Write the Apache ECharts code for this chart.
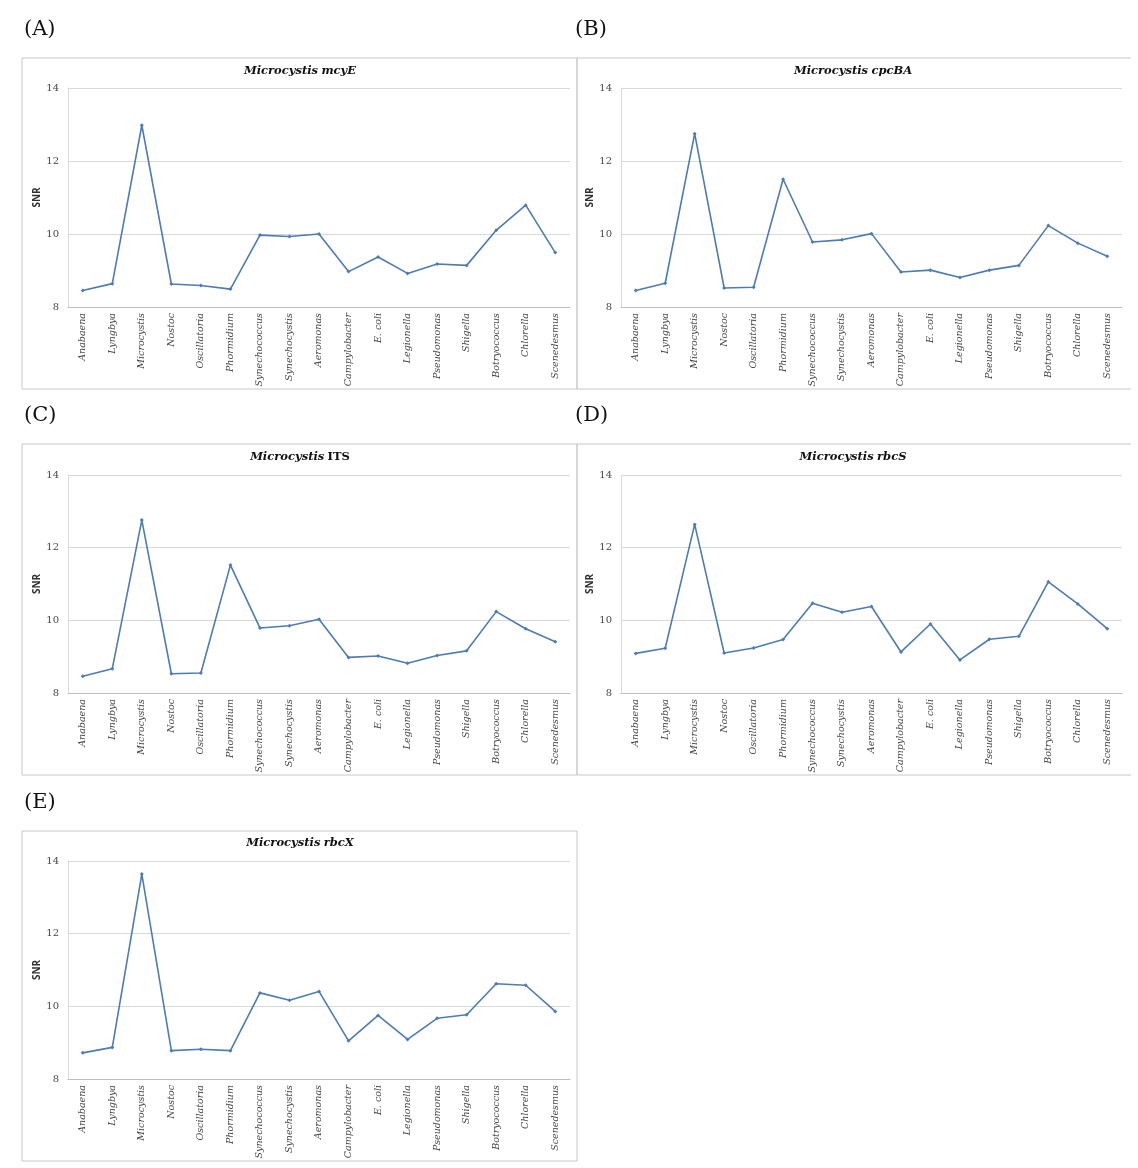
<!DOCTYPE html>
<html>
<head>
<meta charset="utf-8">
<script src="https://cdn.jsdelivr.net/npm/echarts@6/dist/echarts.min.js"></script>
<style>
html,body{margin:0;padding:0;background:#fff;}
#chart{width:1138px;height:1168px;}
</style>
</head>
<body>
<div id="chart"></div>
<script>
const categories = ['Anabaena','Lyngbya','Microcystis','Nostoc','Oscillatoria','Phormidium','Synechococcus','Synechocystis','Aeromonas','Campylobacter','E. coli','Legionella','Pseudomonas','Shigella','Botryococcus','Chlorella','Scenedesmus'];

const mcyE  = [8.45, 8.64, 12.98, 8.63, 8.59, 8.49, 9.97, 9.93, 10.00, 8.97, 9.37, 8.92, 9.18, 9.14, 10.10, 10.79, 9.49];
const cpcBA = [8.45, 8.65, 12.75, 8.52, 8.54, 11.50, 9.78, 9.84, 10.01, 8.96, 9.01, 8.81, 9.01, 9.14, 10.23, 9.75, 9.39];
const ITS   = [8.46, 8.67, 12.76, 8.53, 8.55, 11.52, 9.79, 9.85, 10.03, 8.98, 9.02, 8.82, 9.03, 9.16, 10.24, 9.77, 9.41];
const rbcS  = [9.09, 9.23, 12.64, 9.10, 9.24, 9.47, 10.47, 10.22, 10.38, 9.13, 9.90, 8.91, 9.48, 9.56, 11.06, 10.45, 9.77];
const rbcX  = [8.72, 8.87, 13.64, 8.78, 8.82, 8.78, 10.37, 10.17, 10.41, 9.05, 9.75, 9.09, 9.67, 9.77, 10.62, 10.58, 9.86];

const yTicks = { min: 8, max: 14, interval: 2 };
const yAxisName = 'SNR';
const panelLetters = ['(A)','(B)','(C)','(D)','(E)'];
const panelGenes = ['mcyE','cpcBA','ITS','rbcS','rbcX'];
const panelData = [mcyE, cpcBA, ITS, rbcS, rbcX];

// layout (styles / positions)
const layout = [
  {box:[22,58,577,389], grid:{left:68, top:88, width:502, height:219}, letter:[24,30], title:[300,71], rightEdge:true},
  {box:[577,58,1131,389], grid:{left:621, top:88, width:501, height:219}, letter:[575,30], title:[853,71], rightEdge:false},
  {box:[22,444,577,775], grid:{left:68, top:475, width:502, height:218}, letter:[24,416], title:[300,457], rightEdge:true},
  {box:[577,444,1131,775], grid:{left:621, top:475, width:501, height:218}, letter:[575,416], title:[853,457], rightEdge:false},
  {box:[22,831,577,1161], grid:{left:68, top:861, width:502, height:218}, letter:[24,803], title:[300,843], rightEdge:true}
];

const LINE = '#4c7cb3';
const LABEL = '#474747';
const SERIF = '"DejaVu Serif", "Liberation Serif", serif';

const grids = [], xAxes = [], yAxes = [], series = [], graphics = [];
layout.forEach((L, i) => {
  grids.push(Object.assign({containLabel:false}, L.grid));
  xAxes.push({
    type:'category', gridIndex:i, data:categories, boundaryGap:true,
    axisLine:{show:true, lineStyle:{color:'#bfbfbf', width:1}},
    axisTick:{show:false},
    axisLabel:{interval:0, rotate:90, margin:6, fontSize:9.5, fontStyle:'italic', color:LABEL, fontFamily:SERIF}
  });
  yAxes.push({
    type:'value', gridIndex:i, min:yTicks.min, max:yTicks.max, interval:yTicks.interval,
    name:yAxisName, nameLocation:'middle', nameGap:19, nameRotate:90,
    nameTextStyle:{fontSize:10, fontWeight:'bold', color:'#303030', fontFamily:'"Open Sans", "DejaVu Sans", sans-serif'},
    axisLine:{show:true, lineStyle:{color:'#d9d9d9', width:1}},
    axisTick:{show:false},
    splitLine:{show:true, lineStyle:{color:'#d9d9d9', width:1}},
    axisLabel:{fontSize:10, color:LABEL, margin:9, fontFamily:SERIF}
  });
  series.push({
    type:'line', xAxisIndex:i, yAxisIndex:i, data:panelData[i],
    symbol:'diamond', symbolSize:4, showSymbol:true,
    lineStyle:{color:LINE, width:1.6},
    itemStyle:{color:LINE},
    animation:false
  });
  const [x1,y1,x2,y2] = L.box;
  const pts = L.rightEdge ? [[x2,y1],[x1,y1],[x1,y2],[x2,y2],[x2,y1]] : [[x2,y1],[x1,y1],[x1,y2],[x2,y2]];
  graphics.push({type:'polyline', shape:{points:pts}, style:{stroke:'#c8c8c8', lineWidth:1, fill:null}, z:0, silent:true});
  graphics.push({type:'text', x:L.letter[0], y:L.letter[1],
    style:{text:panelLetters[i], fontSize:21, fontFamily:'"DejaVu Serif", "Liberation Serif", serif', fill:'#111', textVerticalAlign:'middle', textAlign:'left'}});
  const gene = panelGenes[i];
  const geneStyle = gene === 'ITS' ? 'g' : 'gi';
  graphics.push({type:'text', x:L.title[0], y:L.title[1],
    style:{text:'{i|Microcystis} {' + geneStyle + '|' + gene + '}', textAlign:'center', textVerticalAlign:'middle',
      rich:{
        i:{fontSize:11.5, fontWeight:'bold', fontStyle:'italic', fontFamily:SERIF, fill:'#111'},
        gi:{fontSize:11.5, fontWeight:'bold', fontStyle:'italic', fontFamily:SERIF, fill:'#111'},
        g:{fontSize:11.5, fontWeight:'bold', fontFamily:SERIF, fill:'#111'}
      }}});
});

const chart = echarts.init(document.getElementById('chart'), null, {renderer:'canvas'});
chart.setOption({
  backgroundColor:'#ffffff',
  animation:false,
  grid:grids, xAxis:xAxes, yAxis:yAxes, series:series,
  graphic:graphics
});
</script>
</body>
</html>
